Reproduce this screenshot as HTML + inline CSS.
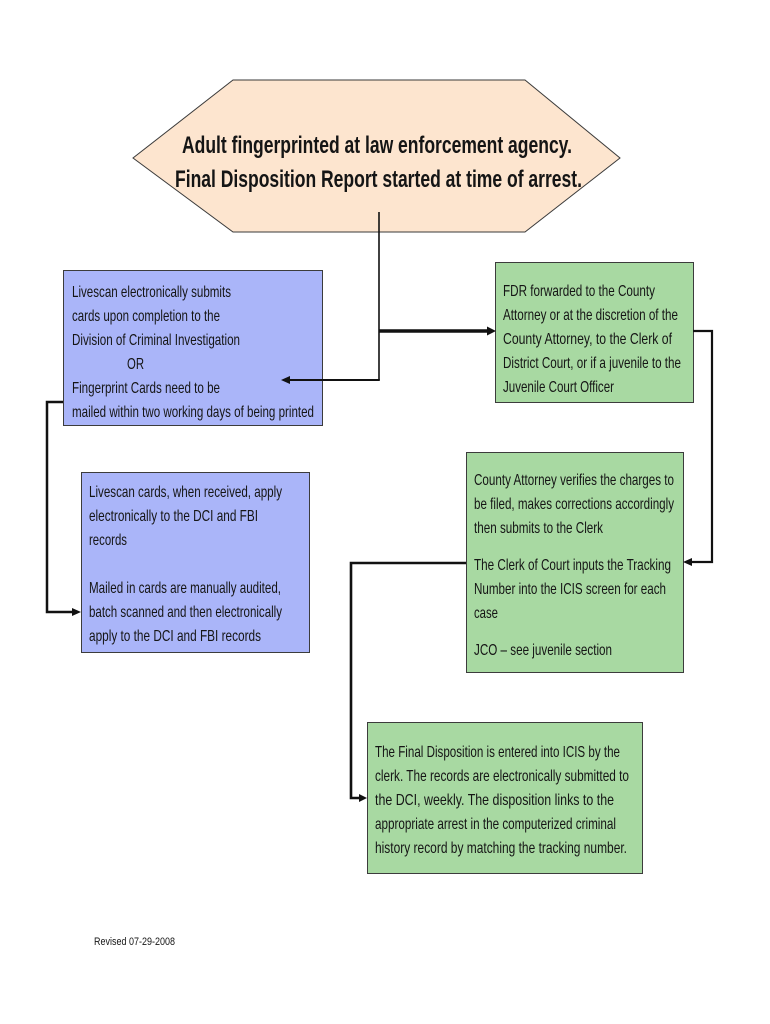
<!DOCTYPE html>
<html>
<head>
<meta charset="utf-8">
<style>
html,body{margin:0;padding:0;background:#fff;}
svg{display:block;}
text{font-family:"Liberation Sans Narrow","Liberation Sans",sans-serif;fill:#151515;}
.b{font-size:16px;}
.t{font-size:24px;font-weight:bold;}
.r{font-size:11px;}
</style>
</head>
<body>
<svg width="770" height="1024" viewBox="0 0 770 1024" xmlns="http://www.w3.org/2000/svg">
  <rect width="770" height="1024" fill="#fff"/>

  <!-- Hexagon -->
  <polygon points="233,80 525,80 620,158 525,232 233,232 133,158" fill="#fde5cf" stroke="#3a3a3a" stroke-width="1"/>
  <text class="t" x="182" y="153" textLength="390" lengthAdjust="spacingAndGlyphs">Adult fingerprinted at law enforcement agency.</text>
  <text class="t" x="175" y="187" textLength="407" lengthAdjust="spacingAndGlyphs">Final Disposition Report started at time of arrest.</text>

  <!-- Blue box 1 -->
  <rect x="63.5" y="270.5" width="259" height="155" fill="#aab5f9" stroke="#3c3c3c" stroke-width="1"/>
  <text class="b" x="72" y="297" textLength="159" lengthAdjust="spacingAndGlyphs">Livescan electronically submits</text>
  <text class="b" x="72" y="321" textLength="148" lengthAdjust="spacingAndGlyphs">cards upon completion to the</text>
  <text class="b" x="72" y="345" textLength="168" lengthAdjust="spacingAndGlyphs">Division of Criminal Investigation</text>
  <text class="b" x="127" y="369" textLength="17" lengthAdjust="spacingAndGlyphs">OR</text>
  <text class="b" x="72" y="393" textLength="148" lengthAdjust="spacingAndGlyphs">Fingerprint Cards need to be</text>
  <text class="b" x="72" y="417" textLength="242" lengthAdjust="spacingAndGlyphs">mailed within two working days of being printed</text>

  <!-- Blue box 2 -->
  <rect x="81.5" y="472.5" width="228" height="180" fill="#aab5f9" stroke="#3c3c3c" stroke-width="1"/>
  <text class="b" x="89" y="497" textLength="193" lengthAdjust="spacingAndGlyphs">Livescan cards, when received, apply</text>
  <text class="b" x="89" y="521" textLength="169" lengthAdjust="spacingAndGlyphs">electronically  to the DCI and FBI</text>
  <text class="b" x="89" y="545" textLength="38" lengthAdjust="spacingAndGlyphs">records</text>
  <text class="b" x="89" y="593" textLength="192" lengthAdjust="spacingAndGlyphs">Mailed in cards are manually audited,</text>
  <text class="b" x="89" y="617" textLength="193" lengthAdjust="spacingAndGlyphs">batch scanned and then electronically</text>
  <text class="b" x="89" y="641" textLength="172" lengthAdjust="spacingAndGlyphs">apply to the DCI and  FBI records</text>

  <!-- Green box 1 -->
  <rect x="495.5" y="262.5" width="198" height="140" fill="#a8d9a2" stroke="#3c3c3c" stroke-width="1"/>
  <text class="b" x="503" y="296" textLength="152" lengthAdjust="spacingAndGlyphs">FDR forwarded to the County</text>
  <text class="b" x="503" y="320" textLength="175" lengthAdjust="spacingAndGlyphs">Attorney or at the discretion of the</text>
  <text class="b" x="503" y="344" textLength="169" lengthAdjust="spacingAndGlyphs">County Attorney, to the Clerk of</text>
  <text class="b" x="503" y="368" textLength="178" lengthAdjust="spacingAndGlyphs">District Court, or if a juvenile to the</text>
  <text class="b" x="503" y="392" textLength="111" lengthAdjust="spacingAndGlyphs">Juvenile Court Officer</text>

  <!-- Green box 2 -->
  <rect x="466.5" y="452.5" width="217" height="220" fill="#a8d9a2" stroke="#3c3c3c" stroke-width="1"/>
  <text class="b" x="474" y="485" textLength="200" lengthAdjust="spacingAndGlyphs">County Attorney verifies the charges to</text>
  <text class="b" x="474" y="509" textLength="200" lengthAdjust="spacingAndGlyphs">be filed, makes corrections accordingly</text>
  <text class="b" x="474" y="533" textLength="129" lengthAdjust="spacingAndGlyphs">then submits to the Clerk</text>
  <text class="b" x="474" y="570" textLength="197" lengthAdjust="spacingAndGlyphs">The Clerk of Court inputs the Tracking</text>
  <text class="b" x="474" y="594" textLength="192" lengthAdjust="spacingAndGlyphs">Number into the ICIS screen for each</text>
  <text class="b" x="474" y="618" textLength="24" lengthAdjust="spacingAndGlyphs">case</text>
  <text class="b" x="474" y="655" textLength="138" lengthAdjust="spacingAndGlyphs">JCO – see juvenile section</text>

  <!-- Green box 3 -->
  <rect x="367.5" y="722.5" width="275" height="151" fill="#a8d9a2" stroke="#3c3c3c" stroke-width="1"/>
  <text class="b" x="375" y="757" textLength="245" lengthAdjust="spacingAndGlyphs">The Final Disposition is entered into ICIS by the</text>
  <text class="b" x="375" y="781" textLength="254" lengthAdjust="spacingAndGlyphs">clerk.  The records are electronically submitted to</text>
  <text class="b" x="375" y="805" textLength="239" lengthAdjust="spacingAndGlyphs">the DCI, weekly.  The disposition links to the</text>
  <text class="b" x="375" y="829" textLength="241" lengthAdjust="spacingAndGlyphs">appropriate arrest in the computerized criminal</text>
  <text class="b" x="375" y="853" textLength="252" lengthAdjust="spacingAndGlyphs">history record by matching the tracking number.</text>

  <!-- Revised -->
  <text class="r" x="94" y="945" textLength="81" lengthAdjust="spacingAndGlyphs">Revised 07-29-2008</text>

  <!-- Connectors -->
  <g fill="none" stroke="#111" stroke-linejoin="miter">
    <line x1="379" y1="212" x2="379" y2="380" stroke-width="1.6"/>
    <line x1="379" y1="331" x2="489" y2="331" stroke-width="3.5"/>
    <polyline points="379.8,380 288,380" stroke-width="2"/>
    <polyline points="693,331 712,331 712,562 690,562" stroke-width="2.2"/>
    <polyline points="63,402 47,402 47,612 74,612" stroke-width="2.5"/>
    <polyline points="466,563 351,563 351,798 361,798" stroke-width="2.6"/>
  </g>
  <g fill="#111">
    <polygon points="496,331 487,326.5 487,335.5"/>
    <polygon points="281,380 290,376 290,384"/>
    <polygon points="683,562 692,558 692,566"/>
    <polygon points="81,612 72,608 72,616"/>
    <polygon points="367,798 359,794 359,802"/>
  </g>
</svg>
</body>
</html>
